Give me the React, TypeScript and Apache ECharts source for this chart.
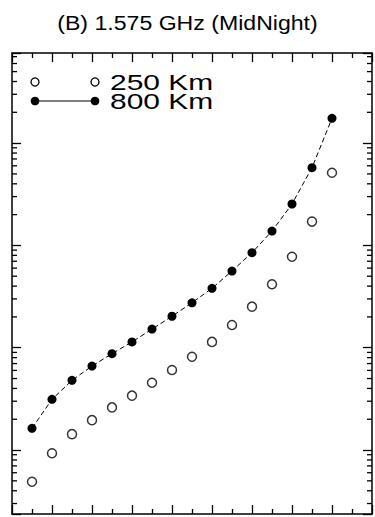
import React, { useEffect, useRef } from "react";
import * as echarts from "echarts";

// Data (log-scale y, unlabeled units)
const xValues = [1, 2, 3, 4, 5, 6, 7, 8, 9, 10, 11, 12, 13, 14, 15, 16];
const km250 = [0.49, 0.93, 1.43, 1.96, 2.61, 3.4, 4.55, 6.05, 8.17, 11.4, 16.7, 25.2, 41.7, 77.6, 171, 514];
const km800 = [1.63, 3.13, 4.8, 6.62, 8.74, 11.4, 15.2, 20.3, 27.5, 38.1, 56.2, 84.9, 138, 254, 575, 1747];
const seriesNames = ["250 Km", "800 Km"];
const titleText = "(B) 1.575 GHz (MidNight)";

const X_MIN = 0;
const X_MAX = 18;
const Y_MIN = 0.237;
const Y_MAX = 7600;
const minorTickValues = [
  0.3, 0.4, 0.5, 0.6, 0.7, 0.8, 0.9,
  2, 3, 4, 5, 6, 7, 8, 9,
  20, 30, 40, 50, 60, 70, 80, 90,
  200, 300, 400, 500, 600, 700, 800, 900,
  2000, 3000, 4000, 5000, 6000, 7000,
];

const FONT = "'Liberation Sans', Arial, sans-serif";
const MINOR_LEN = 5;
const MINOR_COLOR = "#000";

export default function App() {
  const ref = useRef<HTMLDivElement>(null);

  useEffect(() => {
    if (!ref.current) return;
    const chart = echarts.init(ref.current, undefined, { renderer: "svg" });

    const xAxisBase = {
      type: "value",
      min: X_MIN,
      max: X_MAX,
      interval: 2,
      axisLine: { show: true, onZero: false, lineStyle: { color: "#000", width: 1.5 } },
      axisTick: { show: true, inside: true, length: 9, lineStyle: { color: "#000", width: 1.3 } },
      minorTick: { show: true, splitNumber: 2, length: 5, lineStyle: { color: "#000", width: 1.3 } },
      axisLabel: { show: false },
      splitLine: { show: false },
      minorSplitLine: { show: false },
    };
    const yAxisBase = {
      type: "log",
      logBase: 10,
      min: Y_MIN,
      max: Y_MAX,
      axisLine: { show: true, onZero: false, lineStyle: { color: "#000", width: 1.5 } },
      axisTick: { show: true, inside: true, length: 9, lineStyle: { color: "#000", width: 1.3 } },
      axisLabel: { show: false },
      splitLine: { show: false },
    };

    const staticGraphics: any[] = [
      {
        type: "text",
        x: 187.5,
        y: 23,
        scaleX: 1.1,
        style: {
          text: titleText,
          font: `21px ${FONT}`,
          fill: "#000",
          textAlign: "center",
          textVerticalAlign: "middle",
        },
      },
      { type: "circle", shape: { cx: 35, cy: 82, r: 4 }, style: { fill: "#fff", stroke: "#000", lineWidth: 1.3 } },
      { type: "circle", shape: { cx: 95, cy: 82, r: 4 }, style: { fill: "#fff", stroke: "#000", lineWidth: 1.3 } },
      { type: "line", shape: { x1: 35, y1: 101, x2: 95, y2: 101 }, style: { stroke: "#000", lineWidth: 1.2 } },
      { type: "circle", shape: { cx: 35, cy: 101, r: 4.3 }, style: { fill: "#000" } },
      { type: "circle", shape: { cx: 95, cy: 101, r: 4.3 }, style: { fill: "#000" } },
      {
        type: "text",
        x: 110,
        y: 72.5,
        scaleX: 1.36,
        style: {
          text: seriesNames.join("\n"),
          font: `22px ${FONT}`,
          lineHeight: 19,
          fill: "#000",
          textAlign: "left",
          textVerticalAlign: "top",
        },
      },
    ];

    const leftTicks = {
      type: "scatter",
      silent: true,
      clip: false,
      data: minorTickValues.map((v) => [X_MIN, v]),
      symbol: "rect",
      symbolSize: [MINOR_LEN, 1.3],
      symbolOffset: [MINOR_LEN / 2, 0],
      itemStyle: { color: MINOR_COLOR, opacity: 1 },
      z: 5,
    };
    const rightTicks = {
      ...leftTicks,
      data: minorTickValues.map((v) => [X_MAX, v]),
      symbolOffset: [-MINOR_LEN / 2, 0],
    };

    chart.setOption({
      animation: false,
      backgroundColor: "#fff",
      grid: { left: 12, top: 53, right: 3, bottom: 3, containLabel: false },
      xAxis: [
        { ...xAxisBase, position: "bottom" },
        { ...xAxisBase, position: "top" },
      ],
      yAxis: [
        { ...yAxisBase, position: "left" },
        { ...yAxisBase, position: "right" },
      ],
      graphic: staticGraphics,
      series: [
        {
          name: seriesNames[0],
          type: "scatter",
          data: xValues.map((x, i) => [x, km250[i]]),
          symbol: "circle",
          symbolSize: 9,
          itemStyle: { color: "#fff", borderColor: "#000", borderWidth: 1.5 },
          silent: true,
          z: 3,
        },
        {
          name: seriesNames[1],
          type: "line",
          data: xValues.map((x, i) => [x, km800[i]]),
          symbol: "circle",
          symbolSize: 9,
          showSymbol: true,
          smooth: false,
          lineStyle: { color: "#000", width: 1, type: [5, 3] },
          itemStyle: { color: "#000", borderWidth: 0 },
          silent: true,
          z: 3,
        },
        leftTicks,
        rightTicks,
      ],
    });

    return () => chart.dispose();
  }, []);

  return (
    <div
      ref={ref}
      style={{ position: "fixed", left: 0, top: 0, width: 375, height: 517, background: "#fff" }}
    />
  );
}
